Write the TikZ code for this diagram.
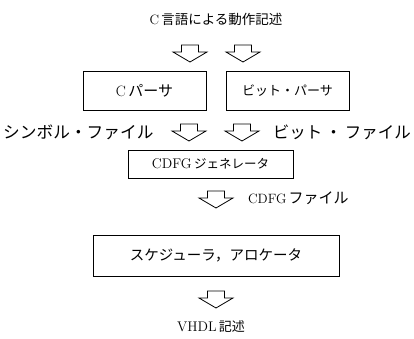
\documentclass[tikz,border=0pt]{standalone}
\usepackage{fontspec}
\newfontfamily\cjk{Noto Sans CJK JP}
\tikzset{
  box/.style={draw, line width=0.8pt, inner sep=0pt},
  lbl/.style={inner sep=0pt},
  barrow/.pic={\draw[line width=0.8pt, line join=miter] (-8.5,0) -- (8.5,0) -- (8.5,7) -- (17,7) -- (0,17) -- (-17,7) -- (-8.5,7) -- cycle;}
}
\begin{document}
\begin{tikzpicture}[x=1pt,y=-1pt]
\fill[white] (0,0) rectangle (414,339);
\useasboundingbox (0,0) rectangle (414,339);
% title
\node[lbl] (title) at (216,19) {\fontsize{13.5}{15}\selectfont C\,{\cjk 言語による動作記述}};
% arrows row 1
\coordinate (a1) at (190,45);
\coordinate (a2) at (243,45);
\pic at (a1) {barrow};
\pic at (a2) {barrow};
% boxes row 1
\node[box, minimum width=123pt, minimum height=39pt] (cp) at (144.5,90.5) {\fontsize{15}{16}\selectfont C\,{\cjk パーサ}};
\node[box, minimum width=123pt, minimum height=39pt] (bp) at (287.5,90.5) {\fontsize{13}{15}\selectfont\cjk ビット・パーサ};
% row 2
\node[lbl, anchor=west] (sym) at (3,132) {\fontsize{16.7}{18}\selectfont\cjk シンボル・ファイル};
\node[lbl, anchor=east] (bit) at (411,132) {\fontsize{16.5}{18}\selectfont\cjk ビット\hspace{3pt}・\hspace{3pt}ファイル};
\coordinate (a3) at (189,124);
\coordinate (a4) at (242,124);
\pic at (a3) {barrow};
\pic at (a4) {barrow};
% CDFG generator
\node[box, minimum width=165pt, minimum height=28pt] (cdfg) at (210.5,164) {\fontsize{14}{15}\selectfont CDFG\,{\fontsize{12.5}{14}\selectfont\cjk ジェネレータ}};
\coordinate (a5) at (216,191);
\pic at (a5) {barrow};
\node[lbl, anchor=west] (cf) at (248,198) {\fontsize{13.5}{15}\selectfont CDFG\,{\fontsize{15}{16}\selectfont\cjk ファイル}};
% scheduler
\node[box, minimum width=246pt, minimum height=41pt] (sch) at (216,255.5) {\fontsize{14.5}{16}\selectfont\cjk スケジューラ，アロケータ};
\coordinate (a6) at (216,291);
\pic at (a6) {barrow};
\node[lbl] (vhdl) at (211,327) {\fontsize{14}{15}\selectfont VHDL\,{\fontsize{13}{15}\selectfont\cjk 記述}};
\end{tikzpicture}
\end{document}
